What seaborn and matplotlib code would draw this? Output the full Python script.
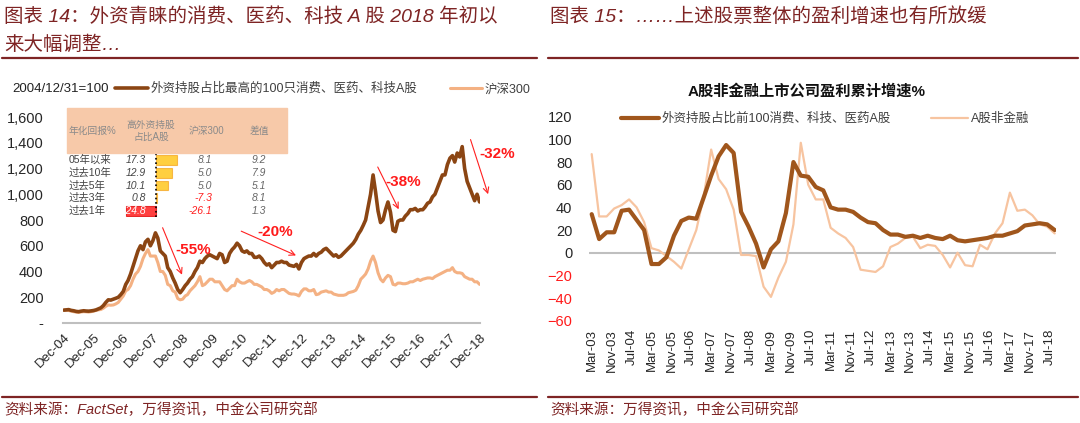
import numpy as np
import pandas as pd
import seaborn as sns
import matplotlib.pyplot as plt
import matplotlib.dates as mdates
import matplotlib.ticker as mticker
from matplotlib.patches import Rectangle
from matplotlib.lines import Line2D

# ---- left chart: index, 2004/12/31 = 100 (monthly, Dec-04 .. Dec-18)
top100_index = [
    100,
    102, 104, 98, 95, 90, 88, 92, 95, 93, 92, 94, 97,
    102, 110, 118, 135, 160, 180, 178, 185, 192, 200, 220, 245,
    300, 330, 380, 440, 500, 560, 600, 570, 630, 650, 600, 640,
    700, 660, 560, 540, 520, 430, 400, 350, 310, 260, 235, 260,
    290, 310, 340, 360, 400, 430, 480, 470, 500, 520, 530, 520,
    510, 500, 540, 530, 470, 480, 540, 570, 590, 620, 600, 560,
    550, 560, 540, 540, 510, 510, 520, 500, 470, 450, 460, 430,
    450, 470, 470, 480, 470, 470, 450, 445, 440, 455, 420, 470,
    500, 510, 520, 520, 540, 520, 540, 550, 570, 580, 560, 540,
    520, 530, 510, 520, 540, 560, 580, 600, 620, 650, 690, 720,
    760, 800, 900, 1000, 1150, 1020, 870, 780, 800, 880, 940, 860,
    720, 710, 790, 800, 800, 830, 850, 880, 880, 890, 870, 880,
    880, 900, 930, 940, 980, 1000, 1050, 1100, 1150, 1150, 1230, 1280,
    1300, 1250, 1320, 1290, 1370, 1200, 1100, 1050, 1000, 950, 1000, 940,
]
hs300_index = [
    100,
    98, 97, 92, 88, 85, 82, 86, 88, 87, 85, 88, 92,
    98, 102, 105, 115, 130, 140, 138, 140, 148, 160, 185, 210,
    250, 260, 290, 340, 380, 400, 440, 500, 540, 570, 520, 520,
    520, 470, 400, 400, 370, 300, 290, 250, 240, 190, 180, 185,
    210, 220, 250, 270, 290, 320, 360, 290, 300, 320, 340, 340,
    320, 320, 320, 290, 260, 250, 270, 290, 290, 340, 320, 310,
    310, 320, 330, 320, 300, 300, 290, 280, 260, 260, 250, 230,
    240, 260, 250, 260, 260, 245, 230, 225, 225, 220, 210, 245,
    265, 265, 250, 250, 260, 220, 225, 240, 245, 250, 240, 240,
    225, 220, 215, 215, 215, 220, 235, 240, 245, 255, 290, 340,
    360, 380, 420, 480, 520, 470, 390, 340, 320, 350, 370, 360,
    300, 295, 310, 310, 305, 305, 310, 320, 320, 330, 340, 330,
    340, 345, 350, 350, 345, 360, 370, 380, 390, 400, 410, 410,
    430, 400, 390, 390, 385, 360, 350, 340, 340, 320, 320, 300,
]

# drawdown annotations: (label, arrow start date, start value, arrow end date, end value, text date, text value)
drawdowns = [
    ("-55%", "2008-04-15", 760, "2009-01-05", 355, "2009-05-15", 568),
    ("-20%", "2010-11-20", 722, "2012-11-25", 516, "2012-02-12", 704),
    ("-38%", "2015-07-12", 1231, "2016-04-25", 864, "2016-06-06", 1096),
    ("-32%", "2018-08-31", 1445, "2019-04-25", 980, "2019-07-31", 1311),
]

# small return table pasted on the left chart
table_rows = ["05年以来", "过去10年", "过去5年", "过去3年", "过去1年"]
ret_foreign = [17.3, 12.9, 10.1, 0.8, -24.8]
ret_hs300 = [8.1, 5.0, 5.0, -7.3, -26.1]
ret_diff = [9.2, 7.9, 5.1, 8.1, 1.3]

# ---- right chart: cumulative profit growth %, quarterly Mar-03 .. Sep-18
top100_growth = [
    34, 12, 18, 18, 37, 38, 29, 20, -10, -10, -4, 15, 28, 31, 30, 49,
    68, 85, 95, 88, 36, 23, 8, -13, 3, 10, 35, 80, 68, 67, 58, 55,
    40, 38, 38, 36, 31, 27, 26, 20, 16, 16, 14, 15, 13, 15, 13, 12,
    15, 11, 10, 11, 12, 13, 15, 15, 17, 19, 24, 25, 26, 25, 20,
]
nonfin_growth = [
    87, 32, 32, 39, 42, 47, 40, 27, 4, 2, -3, -8, -14, 3, 20, 50,
    91, 65, 56, 38, -2, -2, -3, -30, -39, -22, -8, 25, 97, 60, 47, 47,
    22, 17, 13, 5, -15, -16, -17, -12, 5, 8, 13, 14, 4, 7, 6, -2,
    -13, 0, -11, -12, 7, 3, 17, 26, 53, 37, 38, 33, 25, 23, 17,
]

DARK = "#8B4513"
DARK2 = "#A0561C"
LIGHT = "#F4B183"
LIGHT2 = "#F7C4A0"
MAROON = "#7E2424"

sns.set_style("white")
plt.rcParams["font.family"] = ["Liberation Sans", "Noto Sans CJK SC", "DejaVu Sans"]

W, H = 1080, 423
fig = plt.figure(figsize=(W / 100, H / 100), dpi=100)


def fx(x):
    return x / W


def fy(y):
    return 1 - y / H


# ---------------- titles, rules, footers ----------------
fig.text(fx(4), fy(17), "图表 14：外资青睐的消费、医药、科技 A 股 2018 年初以", fontsize=14,
         color=MAROON, va="center", style="italic")
fig.text(fx(4), fy(45), "来大幅调整…", fontsize=14, color=MAROON, va="center", style="italic")
fig.text(fx(550), fy(17), "图表 15：……上述股票整体的盈利增速也有所放缓", fontsize=14,
         color=MAROON, va="center", style="italic")
for x0, x1 in [(2, 537), (548, 1078)]:
    fig.add_artist(Line2D([fx(x0), fx(x1)], [fy(58), fy(58)], color=MAROON, lw=1.6))
    fig.add_artist(Line2D([fx(x0), fx(x1)], [fy(397), fy(397)], color=MAROON, lw=1.6))
fig.text(fx(4), fy(410), "资料来源：FactSet，万得资讯，中金公司研究部", fontsize=10.5,
         color=MAROON, va="center", style="italic")
fig.text(fx(550), fy(410), "资料来源：万得资讯，中金公司研究部", fontsize=10.5,
         color=MAROON, va="center", style="italic")

# ---------------- left chart ----------------
ax1 = fig.add_axes([fx(63), fy(323), fx(480) - fx(63), fy(117) - fy(323)])
left_dates = pd.date_range("2004-12-31", periods=len(top100_index), freq="ME")
sns.lineplot(x=left_dates, y=hs300_index, ax=ax1, color=LIGHT, lw=2.2, label="沪深300")
sns.lineplot(x=left_dates, y=top100_index, ax=ax1, color=DARK, lw=2.6,
             label="外资持股占比最高的100只消费、医药、科技A股")
ax1.set_ylim(0, 1600)
ax1.set_xlim(pd.Timestamp("2004-12-20"), pd.Timestamp("2019-01-05"))
ax1.set_yticks(range(0, 1601, 200))
ax1.yaxis.set_major_formatter(mticker.FuncFormatter(lambda v, p: "-" if v == 0 else f"{v:,.0f}"))
ax1.set_xticks(pd.date_range("2004-12-31", "2018-12-31", freq="YE"))
ax1.xaxis.set_major_formatter(mdates.DateFormatter("%b-%y"))
for lbl in ax1.get_xticklabels():
    lbl.set_rotation(45)
    lbl.set_ha("right")
    lbl.set_rotation_mode("anchor")
ax1.tick_params(axis="y", length=0, pad=14, labelsize=10.5)
ax1.tick_params(axis="x", length=0, pad=6, labelsize=9.5)
for s in ["top", "right", "left"]:
    ax1.spines[s].set_visible(False)
ax1.spines["bottom"].set_color("#BFBFBF")
ax1.spines["bottom"].set_linewidth(1.5)
ax1.set_xlabel("")
ax1.set_ylabel("")

for txt, xs, ys, xe, ye, xt, yt in drawdowns:
    ax1.annotate("", xy=(pd.Timestamp(xe), ye), xytext=(pd.Timestamp(xs), ys),
                 arrowprops=dict(arrowstyle="->", color="#FF2020", lw=0.8),
                 annotation_clip=False)
    ax1.text(pd.Timestamp(xt), yt, txt, color="#FF1A1A", fontsize=11, fontweight="bold",
             ha="center", va="center", clip_on=False)

h, l = ax1.get_legend_handles_labels()
ax1.legend(h[::-1], l[::-1], loc="center left", bbox_to_anchor=(fx(104), fy(89)),
           bbox_transform=fig.transFigure, ncol=2, frameon=False, fontsize=9,
           handlelength=2.6, columnspacing=2.6, labelcolor="#404040", handletextpad=0.2)
fig.text(fx(12), fy(89), "2004/12/31=100", fontsize=9.5, va="center", color="#222222")

# pasted return table
fig.add_artist(Rectangle((fx(67), fy(153)), fx(287) - fx(67), fy(108) - fy(153),
                         transform=fig.transFigure, color="#F7C9A9", zorder=0.5))
hdr_kw = dict(fontsize=7, color="#8a8a8a", va="center")
fig.text(fx(69), fy(131), "年化回报%", **hdr_kw)
fig.text(fx(151), fy(131), "高外资持股\n占比A股", ha="center", linespacing=1.2, **hdr_kw)
fig.text(fx(206), fy(131), "沪深300", ha="center", **hdr_kw)
fig.text(fx(259), fy(131), "差值", ha="center", **hdr_kw)

tab = fig.add_axes([fx(120), fy(217), fx(185) - fx(120), fy(153) - fy(217)])
tab.axis("off")
bar_colors = ["#FFC000" if v >= 0 else "#FF0000" for v in ret_foreign]
tab.barh(range(len(table_rows)), ret_foreign, height=0.78, color=bar_colors,
         edgecolor=["#F5A623" if v >= 0 else "#E00000" for v in ret_foreign], alpha=0.75, lw=0.8)
tab.axvline(0, color="black", lw=1.2, ls=":")
tab.set_xlim(-29.75, 24)
tab.set_ylim(4.47, -0.55)

for i, name in enumerate(table_rows):
    yy = fy(160 + 12.75 * i)
    fig.text(fx(69), yy, name, fontsize=7.5, color="#444444", va="center")
    fig.text(fx(146), yy, f"{ret_foreign[i]:.1f}", fontsize=7.5, va="center", ha="right",
             style="italic", color="white" if ret_foreign[i] < 0 else "#444444")
    fig.text(fx(212), yy, f"{ret_hs300[i]:.1f}", fontsize=7.5, va="center", ha="right",
             style="italic", color="#FF2020" if ret_hs300[i] < 0 else "#666666")
    fig.text(fx(266), yy, f"{ret_diff[i]:.1f}", fontsize=7.5, va="center", ha="right",
             style="italic", color="#666666")

# ---------------- right chart ----------------
ax2 = fig.add_axes([fx(589), fy(320.7), fx(1056) - fx(589), fy(116.7) - fy(320.7)])
q_dates = pd.date_range("2003-03-31", periods=len(top100_growth), freq="QE")
ax2.axhline(0, color="#BFBFBF", lw=1.5, zorder=1)
sns.lineplot(x=q_dates, y=nonfin_growth, ax=ax2, color=LIGHT2, lw=1.6, label="A股非金融", zorder=2)
sns.lineplot(x=q_dates, y=top100_growth, ax=ax2, color=DARK2, lw=3.0,
             label="外资持股占比前100消费、科技、医药A股", zorder=3)
ax2.set_ylim(-60, 120)
ax2.set_yticks(range(-60, 121, 20))
ax2.set_xlim(pd.Timestamp("2003-02-26"), pd.Timestamp("2018-10-16"))
ax2.set_xticks(pd.date_range("2003-03-31", periods=24, freq="8ME"))
ax2.xaxis.set_major_formatter(mdates.DateFormatter("%b-%y"))
for lbl in ax2.get_xticklabels():
    lbl.set_rotation(90)
ax2.tick_params(axis="y", length=0, pad=12, labelsize=10.5)
ax2.tick_params(axis="x", length=0, pad=6, labelsize=9.5)
for lbl in ax2.get_yticklabels():
    if lbl.get_text().startswith(("-", "−")):
        lbl.set_color("#FF1A1A")
for s in ax2.spines.values():
    s.set_visible(False)
ax2.set_xlabel("")
ax2.set_ylabel("")
h, l = ax2.get_legend_handles_labels()
ax2.legend(h[::-1], l[::-1], loc="center left", bbox_to_anchor=(fx(610), fy(119)),
           bbox_transform=fig.transFigure, ncol=2, frameon=False, fontsize=9,
           handlelength=3, columnspacing=3.2, labelcolor="#404040", handletextpad=0.2)
fig.text(fx(807), fy(91), "A股非金融上市公司盈利累计增速%", fontsize=11, fontweight="bold",
         ha="center", va="center", color="#111111")

fig.savefig("out.png", dpi=100)
